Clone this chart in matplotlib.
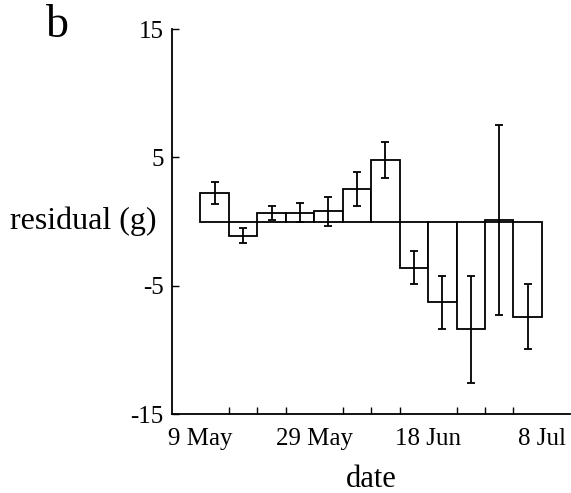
import matplotlib
matplotlib.use("Agg")
import matplotlib.pyplot as plt

# bins of 5 days, counted from 9 May
bin_start = [0, 5, 10, 15, 20, 25, 30, 35, 40, 45, 50, 55]
residual = [2.2, -1.1, 0.7, 0.7, 0.8, 2.55, 4.8, -3.6, -6.3, -8.4, 0.15, -7.4]
err = [0.85, 0.6, 0.55, 0.75, 1.15, 1.35, 1.4, 1.3, 2.1, 4.15, 7.4, 2.5]

tick_days = [0, 20, 40, 60]
tick_labels = ["9 May", "29 May", "18 Jun", "8 Jul"]
minor_days = [0, 5, 10, 15, 20, 25, 30, 35, 40, 45, 50, 55, 60]
y_ticks = [-15, -5, 5, 15]

plt.rcParams['font.family'] = ['Liberation Serif', 'DejaVu Serif']

fig = plt.figure(figsize=(5.71, 4.93), dpi=100)
ax = fig.add_axes([0.301, 0.160, 0.698, 0.781])

centers = [s + 2.5 for s in bin_start]
ax.bar(bin_start, residual, width=5, align='edge', facecolor='white',
       edgecolor='black', linewidth=1.3)
ax.errorbar(centers, residual, yerr=err, fmt='none', ecolor='black',
            elinewidth=1.3, capsize=3, capthick=1.3)

ax.set_xlim(-5, 65)
ax.set_ylim(-15, 15)
ax.set_yticks(y_ticks)
ax.set_yticklabels([str(v) for v in y_ticks])
ax.set_xticks(tick_days)
ax.set_xticklabels(tick_labels)
ax.set_xticks(minor_days, minor=True)
ax.tick_params(axis='both', which='both', direction='in', width=1, length=5,
               labelsize=18)
ax.tick_params(axis='x', which='major', length=0, pad=10)
ax.tick_params(axis='y', pad=6)

for side in ['top', 'right']:
    ax.spines[side].set_visible(False)
for side in ['left', 'bottom']:
    ax.spines[side].set_linewidth(1.3)

ax.set_xlabel("date", fontsize=22, labelpad=11)
ax.set_ylabel("residual (g)", fontsize=23, rotation=0, ha='right', va='center')
ax.yaxis.set_label_coords(-0.038, 0.50)

fig.text(0.1, 0.947, "b", fontsize=33, ha='center', va='center')

fig.savefig("out.png", dpi=100)
